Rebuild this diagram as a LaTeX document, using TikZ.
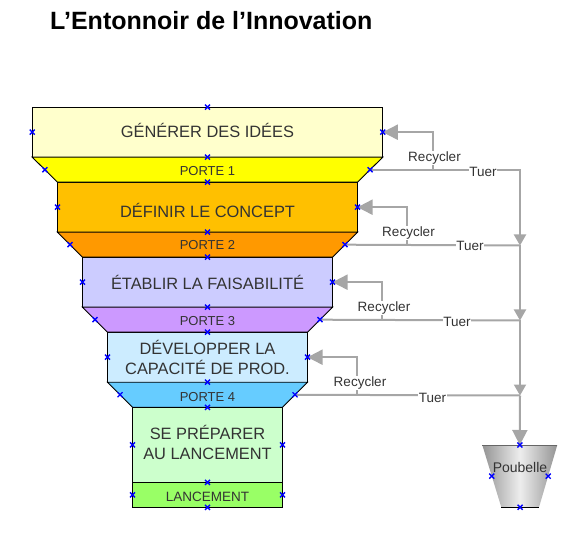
\documentclass[tikz,border=0pt]{standalone}
\usepackage{fontspec}
\setmainfont{Liberation Sans}
\usepackage{xcolor}
\usetikzlibrary{arrows.meta,shapes.misc}
\definecolor{linegray}{HTML}{A6A6A6}
\definecolor{txtgray}{HTML}{333333}
\definecolor{boxa}{HTML}{FFFFCC}
\definecolor{gatea}{HTML}{FFFF00}
\definecolor{boxb}{HTML}{FFC000}
\definecolor{gateb}{HTML}{FF9900}
\definecolor{boxc}{HTML}{CCCCFF}
\definecolor{gatec}{HTML}{CC99FF}
\definecolor{boxd}{HTML}{CCECFF}
\definecolor{gated}{HTML}{66CCFF}
\definecolor{boxe}{HTML}{CCFFCC}
\definecolor{launchgreen}{HTML}{99FF66}
\tikzset{
  stage/.style={draw=black, line width=0.9pt, inner sep=0pt, outer sep=0pt, text=txtgray, align=center, font=\fontsize{16.4}{20}\selectfont},
  gate/.style={draw=black, line width=0.9pt},
  gatetext/.style={inner sep=0pt, text=txtgray, font=\fontsize{13}{15}\selectfont},
  handle/.style={cross out, draw=blue, line width=1.4pt, minimum size=5pt, inner sep=0pt, outer sep=0pt},
  flow/.style={draw=linegray, line width=2pt},
  tip/.style={-{Triangle[length=15pt,width=15pt]}},
  smalltip/.style={-{Triangle[length=11pt,width=12pt]}},
  lbl/.style={fill=white, inner sep=0.5pt, text=txtgray, font=\fontsize{13.5}{15}\selectfont},
}
\begin{document}
\begin{tikzpicture}[x=1pt, y=-1pt]
    \useasboundingbox (0,0) rectangle (581,537);
    % title
    \node[anchor=west, inner sep=0pt, font=\fontsize{25}{30}\selectfont\bfseries] (title) at (50,21) {L’Entonnoir de l’Innovation};
    % stages
    \node[stage, fill=boxa, minimum width=350.5pt, minimum height=50pt, text depth=4pt] (box1) at (207.5,132.2) {GÉNÉRER DES IDÉES};
    \node[stage, fill=boxb, minimum width=300pt, minimum height=50pt, text height=20pt] (box2) at (207.5,207.2) {DÉFINIR LE CONCEPT};
    \node[stage, fill=boxc, minimum width=250pt, minimum height=50pt] (box3) at (207.5,282.2) {ÉTABLIR LA FAISABILITÉ};
    \node[stage, fill=boxd, minimum width=200pt, minimum height=50pt] (box4) at (207.5,357.2) {DÉVELOPPER LA\\CAPACITÉ DE PROD.};
    \node[stage, fill=boxe, minimum width=150pt, minimum height=75pt, text depth=4pt] (box5) at (207.5,444.8) {SE PRÉPARER\\AU LANCEMENT};
    \node[stage, fill=launchgreen, minimum width=150pt, minimum height=25pt, text height=14pt, font=\fontsize{13.5}{15}\selectfont] (launch) at (207.5,494.8) {LANCEMENT};
    % gates
    \draw[gate, fill=gatea] (box1.south west) -- coordinate[midway] (g1l) (box2.north west) -- (box2.north east) -- coordinate[midway] (g1r) (box1.south east) -- cycle;
    \draw[gate, fill=gateb] (box2.south west) -- coordinate[midway] (g2l) (box3.north west) -- (box3.north east) -- coordinate[midway] (g2r) (box2.south east) -- cycle;
    \draw[gate, fill=gatec] (box3.south west) -- coordinate[midway] (g3l) (box4.north west) -- (box4.north east) -- coordinate[midway] (g3r) (box3.south east) -- cycle;
    \draw[gate, fill=gated] (box4.south west) -- coordinate[midway] (g4l) (box5.north west) -- (box5.north east) -- coordinate[midway] (g4r) (box4.south east) -- cycle;
    \node[gatetext] (gate1) at (207.5,171.5) {PORTE 1};
    \node[gatetext] (gate2) at (207.5,245.5) {PORTE 2};
    \node[gatetext] (gate3) at (207.5,321) {PORTE 3};
    \node[gatetext] (gate4) at (207.5,397.5) {PORTE 4};
    % bin
    \coordinate (binA) at (482.3,445);
    \coordinate (binB) at (557.3,445);
    \coordinate (binC) at (539,507.3);
    \coordinate (binD) at (501.3,507.3);
    \shade[left color=black!42, right color=black!42, middle color=black!7] (binA) -- coordinate[midway] (binE) (binD) -- coordinate[midway] (binS) (binC) -- coordinate[midway] (binF) (binB) -- coordinate[midway] (binN) cycle;
    \draw[black!60, line width=1pt] (binA) -- (binB);
    \draw[black, line width=0.9pt] (binD) -- (binC);
    \node[gatetext, font=\fontsize{14}{16}\selectfont] (bin) at (520,467) {Poubelle};
    % junctions on the trunk
    \coordinate (j2) at (520,245.5);
    \coordinate (j3) at (520,320.5);
    \coordinate (j4) at (520,395.5);
    \coordinate (r1) at (433,170.2);
    \coordinate (r2) at (407,245);
    \coordinate (r3) at (382,320);
    \coordinate (r4) at (357,395);
    % kill lines
    \draw[flow, smalltip] (g1r) -| (j2);
    \draw[flow, smalltip] (j2) -- (j3);
    \draw[flow, smalltip] (j3) -- (j4);
    \draw[flow, tip] (j4) -- (binN);
    \draw[flow] (g2r) -- (j2);
    \draw[flow] (g3r) -- (j3);
    \draw[flow] (g4r) -- (j4);
    % recycle lines
    \draw[flow, tip] (r1) |- (box1.east);
    \draw[flow, tip] (r2) |- (box2.east);
    \draw[flow, tip] (r3) |- (box3.east);
    \draw[flow, tip] (r4) |- (box4.east);
    % labels
    \node[lbl] (rec1) at (434.5,158) {Recycler};
    \node[lbl] (rec2) at (408.5,233) {Recycler};
    \node[lbl] (rec3) at (384,308) {Recycler};
    \node[lbl] (rec4) at (360,383) {Recycler};
    \node[lbl] (kill1) at (483,171.5) {Tuer};
    \node[lbl] (kill2) at (470,246) {Tuer};
    \node[lbl] (kill3) at (457,321.5) {Tuer};
    \node[lbl] (kill4) at (432.5,397.5) {Tuer};
    % handles
    \foreach \h [count=\i] in {box1.north, box1.west, box1.east, box1.south, g1l, g1r,
        box2.north, box2.west, box2.east, box2.south, g2l, g2r,
        box3.north, box3.west, box3.east, box3.south, g3l, g3r,
        box4.north, box4.west, box4.east, box4.south, g4l, g4r,
        box5.north, box5.west, box5.east, box5.south,
        launch.west, launch.east, launch.south,
        binN, binE, binF, binS}
      \node[handle] (h\i) at (\h) {};
\end{tikzpicture}
\end{document}
